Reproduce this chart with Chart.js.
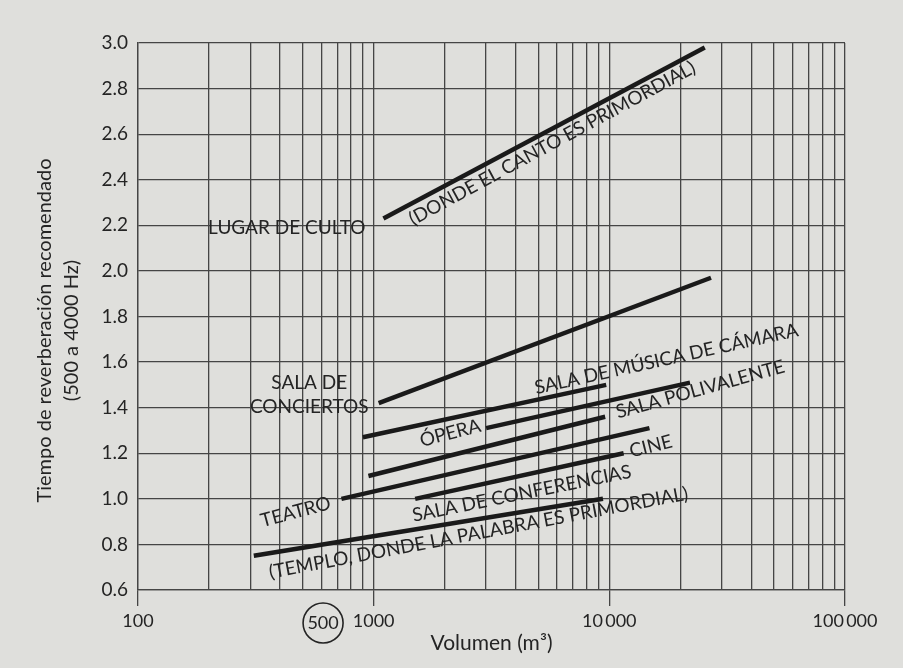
<!DOCTYPE html>
<html>
<head>
<meta charset="utf-8">
<script src="https://cdn.jsdelivr.net/npm/chart.js@4.4.1/dist/chart.umd.min.js"></script>
<style>
  html, body { margin: 0; padding: 0; background: #dfdfdc; }
  #wrap { width: 903px; height: 668px; }
</style>
</head>
<body>
<div id="wrap"><canvas id="myChart" width="903" height="668"></canvas></div>
<script>
// recommended reverberation time vs room volume (log x)
const roomTypes = ['Lugar de culto', 'Sala de conciertos', 'Sala de música de cámara', 'Ópera',
                   'Sala polivalente', 'Teatro', 'Cine', 'Sala de conferencias'];
const volumeStart = [1100, 1050, 900, 3000, 950, 730, 1500, 310];
const volumeEnd   = [25400, 27000, 9700, 22000, 9600, 14800, 11500, 9400];
const timeStart   = [2.23, 1.42, 1.27, 1.31, 1.10, 1.00, 1.00, 0.75];
const timeEnd     = [2.98, 1.97, 1.50, 1.51, 1.36, 1.31, 1.20, 1.00];

const volumeGrid = [100, 200, 300, 400, 500, 600, 700, 800, 900,
                    1000, 2000, 3000, 4000, 5000, 6000, 7000, 8000, 9000,
                    10000, 20000, 30000, 40000, 50000, 60000, 70000, 80000, 90000, 100000];
const volumeLabels = {100: '100', 1000: '1000', 10000: '10\u2009000', 100000: '100\u2009000'};
const decades = [100, 1000, 10000, 100000];
const yTitle = ['Tiempo de reverberación recomendado', '(500 a 4000 Hz)'];

// text written on the chart
const noteTexts  = [['LUGAR DE CULTO'], ['(DONDE EL CANTO ES PRIMORDIAL)'], ['SALA DE', 'CONCIERTOS'],
                    ['SALA DE MÚSICA DE CÁMARA'], ['ÓPERA'], ['SALA POLIVALENTE'], ['TEATRO'], ['CINE'],
                    ['SALA DE CONFERENCIAS'], ['(TEMPLO, DONDE LA PALABRA ES PRIMORDIAL)']];
const noteVolume = [428, 5720, 533, 17460, 2114, 24300, 467, 15000, 4250, 2786];
const noteTime   = [2.19, 2.56, 1.455, 1.613, 1.288, 1.48, 0.942, 1.23, 1.023, 0.85];
const noteAngle  = [0, -28.5, 0, -12.5, -14.5, -15.5, -15, -14, -11.5, -10.7];

const ink = '#242424';
const gridInk = '#454545';
const fontName = 'Lato, "Open Sans", sans-serif';

var datasets = roomTypes.map(function (name, i) {
    return {
        label: name,
        data: [{x: volumeStart[i], y: timeStart[i]}, {x: volumeEnd[i], y: timeEnd[i]}],
        borderColor: '#1a1a1a',
        borderWidth: 4.5,
        pointRadius: 0,
        fill: false,
        tension: 0,
        borderCapStyle: 'butt'
    };
});

var notesPlugin = {
    id: 'notes',
    afterDatasetsDraw: function (chart) {
        var ctx = chart.ctx;
        var xs = chart.scales.x, ys = chart.scales.y;
        ctx.save();
        ctx.fillStyle = ink;
        ctx.textAlign = 'center';
        ctx.textBaseline = 'middle';
        ctx.font = '19px ' + fontName;
        noteTexts.forEach(function (lines, i) {
            var px = xs.getPixelForValue(noteVolume[i]);
            var py = ys.getPixelForValue(noteTime[i]);
            ctx.save();
            ctx.translate(px, py);
            ctx.rotate(noteAngle[i] * Math.PI / 180);
            lines.forEach(function (t, k) {
                ctx.fillText(t, 0, (k - (lines.length - 1) / 2) * 24);
            });
            ctx.restore();
        });

        // circled 500 under the axis (sits a little right of its grid line in the original)
        var cx = xs.getPixelForValue(610), cy = xs.top + 33;
        ctx.font = '18px ' + fontName;
        ctx.fillText('500', cx, cy);
        ctx.strokeStyle = ink;
        ctx.lineWidth = 1.6;
        ctx.beginPath();
        ctx.arc(cx, cy, 20, 0, Math.PI * 2);
        ctx.stroke();

        // y axis title, two rotated lines
        ctx.font = '20px ' + fontName;
        var midY = (ys.top + ys.bottom) / 2 + 14;
        yTitle.forEach(function (t, k) {
            ctx.save();
            ctx.translate(45 + k * 27, midY);
            ctx.rotate(-Math.PI / 2);
            ctx.fillText(t, 0, 0);
            ctx.restore();
        });
        ctx.restore();
    }
};

var ctx = document.getElementById('myChart').getContext('2d');
var myChart = new Chart(ctx, {
    type: 'line',
    data: { datasets: datasets },
    options: {
        responsive: false,
        animation: false,
        layout: { padding: { top: 43, right: 58, left: 0, bottom: 0 } },
        plugins: { legend: { display: false }, tooltip: { enabled: false } },
        scales: {
            x: {
                type: 'logarithmic',
                min: 100,
                max: 100000,
                afterBuildTicks: function (scale) {
                    scale.ticks = volumeGrid.map(function (v) { return {value: v}; });
                },
                afterFit: function (scale) { scale.height = 78; },
                ticks: {
                    autoSkip: false,
                    maxRotation: 0,
                    minRotation: 0,
                    padding: 4,
                    color: ink,
                    font: { family: fontName, size: 18 },
                    callback: function (v) { return volumeLabels[v] || ''; }
                },
                grid: {
                    color: gridInk,
                    lineWidth: 1.3,
                    tickLength: 16,
                    tickColor: function (c) {
                        return c.tick && decades.indexOf(c.tick.value) >= 0 ? gridInk : 'rgba(0,0,0,0)';
                    }
                },
                border: { color: gridInk, width: 1.3 },
                title: {
                    display: true,
                    text: 'Volumen (m³)',
                    color: ink,
                    font: { family: fontName, size: 21 },
                    padding: { top: 0, bottom: 12 }
                }
            },
            y: {
                type: 'linear',
                min: 0.6,
                max: 3.0,
                afterFit: function (scale) { scale.width = 138; },
                ticks: {
                    stepSize: 0.2,
                    padding: 10,
                    color: ink,
                    font: { family: fontName, size: 19 },
                    callback: function (v) { return v.toFixed(1); }
                },
                grid: { color: gridInk, lineWidth: 1.3, drawTicks: false },
                border: { color: gridInk, width: 1.3 }
            }
        }
    },
    plugins: [notesPlugin]
});
</script>
</body>
</html>
